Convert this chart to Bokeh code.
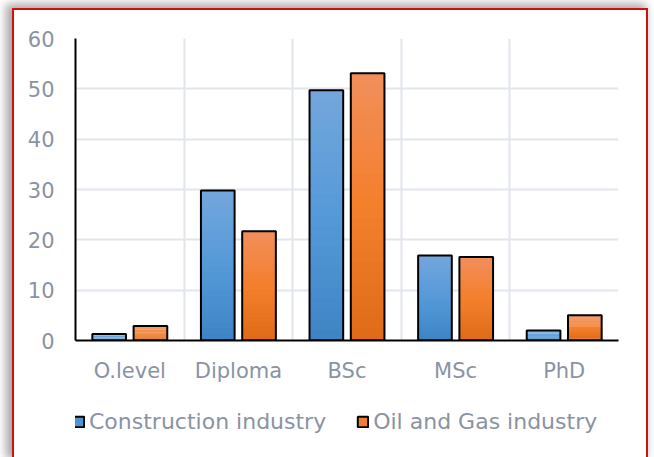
from bokeh.plotting import figure
from bokeh.layouts import column
from bokeh.models import FixedTicker, Range1d, Legend, LegendItem, ColumnDataSource
from bokeh.embed import file_html
from bokeh.resources import INLINE
import numpy as np

categories = ["O.level", "Diploma", "BSc", "MSc", "PhD"]
construction = [1.3, 29.8, 49.7, 16.9, 2.0]
oil_gas = [2.9, 21.7, 53.1, 16.6, 5.0]
series_names = ["Construction industry", "Oil and Gas industry"]
y_ticks = [0, 10, 20, 30, 40, 50, 60]

FONT = "DejaVu Sans"
GRAY = "#8a93a3"
BLUE = "#4f93d3"
ORANGE = "#f07d31"

p = figure(width=632, height=385, output_backend="svg", toolbar_location=None,
           x_range=Range1d(0, len(categories)), y_range=Range1d(0, 60),
           min_border_left=61, min_border_right=28, min_border_top=28, min_border_bottom=55)
p.background_fill_color = "white"
p.border_fill_color = "white"
p.outline_line_color = None

def hex2rgb(h):
    return np.array([int(h[i:i + 2], 16) for i in (1, 3, 5)], dtype=float)

# gradient bars made of thin slices
def grad_bars(vals, offset, top_col, mid_col, bot_col, n=24):
    xs, bottoms, tops, cols = [], [], [], []
    c_top, c_mid, c_bot = hex2rgb(top_col), hex2rgb(mid_col), hex2rgb(bot_col)
    for i, v in enumerate(vals):
        for k in range(n):
            f0 = k / n
            f1 = (k + 1) / n
            fm = (f0 + f1) / 2
            if fm < 0.5:
                c = c_bot + (c_mid - c_bot) * (fm / 0.5)
            else:
                c = c_mid + (c_top - c_mid) * ((fm - 0.5) / 0.5)
            xs.append(i + 0.5 + offset)
            bottoms.append(v * f0)
            tops.append(min(v, v * f1 + v * 0.01))
            cols.append("#%02x%02x%02x" % tuple(int(round(x)) for x in c))
    src = ColumnDataSource(dict(x=xs, bottom=bottoms, top=tops, color=cols))
    p.vbar(x="x", bottom="bottom", top="top", width=0.31, source=src,
           fill_color="color", line_color=None)
    p.vbar(x=[i + 0.5 + offset for i in range(len(vals))], top=vals, width=0.31,
           fill_color=None, line_color="black", line_width=2)

grad_bars(construction, -0.19, "#74a7dc", "#5599d8", "#3e84c4")
grad_bars(oil_gas, 0.19, "#f18f5c", "#f47f2c", "#df6a17")

# axes
p.xaxis.ticker = FixedTicker(ticks=[i + 0.5 for i in range(len(categories))])
p.xaxis.major_label_overrides = {i + 0.5: c for i, c in enumerate(categories)}
p.yaxis.ticker = FixedTicker(ticks=y_ticks)
for ax in (p.xaxis, p.yaxis):
    ax.axis_line_color = "black"
    ax.axis_line_width = 2
    ax.major_tick_line_color = None
    ax.minor_tick_line_color = None
    ax.major_label_text_font = FONT
    ax.major_label_text_font_size = "21px"
    ax.major_label_text_color = GRAY
p.xaxis.major_label_standoff = 12
p.yaxis.major_label_standoff = 15

p.xgrid.ticker = FixedTicker(ticks=list(range(1, len(categories) + 1)))
p.ygrid.ticker = FixedTicker(ticks=y_ticks)
for g in (p.xgrid, p.ygrid):
    g.grid_line_color = "#e1e5ec"
    g.grid_line_width = 2

# legend figure (no axes)
lf = figure(width=632, height=62, output_backend="svg", toolbar_location=None,
            x_range=Range1d(0, 1), y_range=Range1d(0, 1),
            x_axis_location=None, y_axis_location=None,
            min_border_left=0, min_border_right=0, min_border_top=0, min_border_bottom=0)
lf.grid.visible = False
lf.outline_line_color = None
lf.background_fill_color = "white"
lf.border_fill_color = "white"
l1 = lf.vbar(x=[np.nan], top=[np.nan], width=0.3, fill_color=BLUE, line_color="black", line_width=2)
l2 = lf.vbar(x=[np.nan], top=[np.nan], width=0.3, fill_color=ORANGE, line_color="black", line_width=2)
legend = Legend(items=[LegendItem(label=series_names[0], renderers=[l1]),
                       LegendItem(label=series_names[1], renderers=[l2])],
                orientation="horizontal", location=(-3, 23),
                label_text_font=FONT, label_text_font_size="22px", label_text_color=GRAY,
                border_line_color=None, background_fill_alpha=0,
                glyph_width=13, glyph_height=13, label_standoff=4, spacing=30,
                padding=0, margin=0)
lf.add_layout(legend)

layout = column(p, lf, spacing=0)
layout.styles = {"border": "2px solid #d01010",
                 "box-shadow": "-4px -2px 9px 2px rgba(0,0,0,0.35)",
                 "margin-left": "12px", "margin-top": "8px"}

open("out.html", "w").write(file_html(layout, INLINE))
